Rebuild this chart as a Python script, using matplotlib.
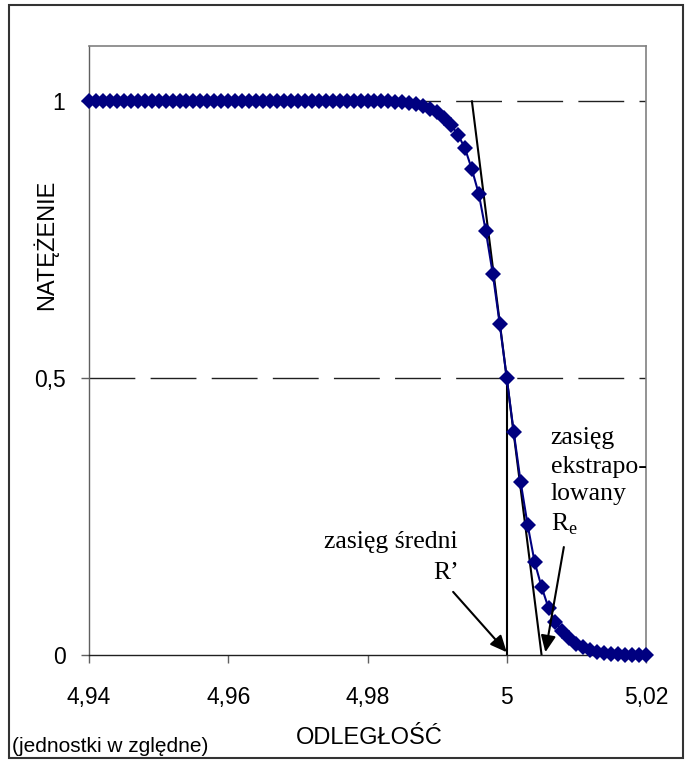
import matplotlib
matplotlib.use("Agg")
import matplotlib.pyplot as plt
from matplotlib.patches import Rectangle

# ---- data ----
x_start = 4.940
x_step = 0.001
intensity = [
    1.0, 1.0, 1.0, 1.0, 1.0, 1.0, 1.0, 1.0, 1.0, 1.0,   # 4.940-4.949
    1.0, 1.0, 1.0, 1.0, 1.0, 1.0, 1.0, 1.0, 1.0, 1.0,   # 4.950-4.959
    1.0, 1.0, 1.0, 1.0, 1.0, 1.0, 1.0, 1.0, 1.0, 1.0,   # 4.960-4.969
    1.0, 1.0, 1.0, 1.0, 1.0, 1.0, 1.0, 1.0, 1.0, 1.0,   # 4.970-4.979
    1.0, 1.0, 1.0, 1.0, 0.999, 0.998, 0.997, 0.995, 0.991, 0.986,  # 4.980-4.989
    0.980, 0.970, 0.957, 0.940, 0.915, 0.877, 0.832, 0.765, 0.688, 0.597,  # 4.990-4.999
    0.500,                                               # 5.000
    0.403, 0.312, 0.235, 0.168, 0.123, 0.085, 0.060, 0.043, 0.030, 0.020,  # 5.001-5.010
    0.014, 0.009, 0.005, 0.003, 0.002, 0.001, 0.0, 0.0, 0.0, 0.0,          # 5.011-5.020
]
distance = [round(x_start + i * x_step, 3) for i in range(len(intensity))]

x_ticks = [4.94, 4.96, 4.98, 5.00, 5.02]
x_tick_labels = ["4,94", "4,96", "4,98", "5", "5,02"]
y_ticks = [0, 0.5, 1]
y_tick_labels = ["0", "0,5", "1"]

tangent_x = [4.995, 5.005]
tangent_y = [1.0, 0.0]
mean_range = 5.000
extrap_range = 5.005

W, H = 685, 765
fig = plt.figure(figsize=(W / 100, H / 100), dpi=100)
fig.patches.append(Rectangle((9 / W, 1 - 758 / H), (683 - 9) / W, (758 - 5) / H,
                             transform=fig.transFigure, fill=False,
                             edgecolor="#333333", linewidth=1.5))

ax = fig.add_axes([89 / W, 1 - 655 / H, (646 - 89) / W, (655 - 46) / H])
ax.set_xlim(4.94, 5.02)
ax.set_ylim(0, 1.1)

for s in ["top", "right"]:
    ax.spines[s].set_color("#808080")
    ax.spines[s].set_linewidth(1.2)
ax.spines["left"].set_color("#606060")
ax.spines["bottom"].set_color("#202020")
ax.spines["left"].set_linewidth(1.0)
ax.spines["bottom"].set_linewidth(1.0)

# dashed reference lines
for yv in [1.0, 0.5]:
    ax.axhline(yv, color="#202020", linewidth=1.0, dashes=(33, 11), zorder=1)

# tangent and vertical line
ax.plot(tangent_x, tangent_y, color="black", linewidth=1.5, zorder=2)
ax.plot([mean_range, mean_range], [0, 0.5], color="black", linewidth=1.5, zorder=2)

# data
ax.plot(distance, intensity, color="#000080", linewidth=1.5, marker="D",
        markersize=8, markeredgewidth=0, zorder=3, clip_on=False)

ax.set_xticks(x_ticks)
ax.set_xticklabels(x_tick_labels)
ax.set_yticks(y_ticks)
ax.set_yticklabels(y_tick_labels)
ax.tick_params(direction="out", length=6, width=1, color="#606060", labelsize=16.5)
ax.tick_params(axis="x", pad=16)
ax.tick_params(axis="y", pad=11)
for lab in ax.get_xticklabels() + ax.get_yticklabels():
    lab.set_family("Liberation Sans")

fig.text(45 / W, 1 - 245 / H, "NATĘŻENIE", rotation=90, ha="center", va="center",
         fontsize=17, family="Liberation Sans")
fig.text(369 / W, 1 - 738 / H, "ODLEGŁOŚĆ", ha="center", va="center",
         fontsize=17, family="Liberation Sans")
fig.text(12 / W, 1 - 746 / H, "(jednostki w zględne)", ha="left", va="center",
         fontsize=15, family="Liberation Sans")

serif = "Liberation Serif"
fs = 18.5
ax.text(4.9834, 0.204, "zasięg średni", ha="center", va="center",
        fontsize=fs, family=serif)
ax.text(4.99135, 0.148, "R’", ha="center", va="center", fontsize=fs, family=serif)

ax.text(5.0063, 0.392, "zasięg", ha="left", va="center", fontsize=fs, family=serif)
ax.text(5.0063, 0.339, "ekstrapo-", ha="left", va="center", fontsize=fs, family=serif)
ax.text(5.0063, 0.290, "lowany", ha="left", va="center", fontsize=fs, family=serif)
ax.text(5.0063, 0.236, r"R$_\mathregular{e}$", ha="left", va="center",
        fontsize=fs, family=serif)

arrow_kw = dict(arrowstyle="-|>,head_length=1.0,head_width=0.45",
                color="black", linewidth=1.5, shrinkA=0, shrinkB=0)
ax.annotate("", xy=(mean_range, 0.005), xytext=(4.9923, 0.114), arrowprops=arrow_kw,
            zorder=4)
ax.annotate("", xy=(extrap_range + 0.00055, 0.005), xytext=(5.0082, 0.195),
            arrowprops=arrow_kw, zorder=4)

fig.savefig("out.png", dpi=100)
